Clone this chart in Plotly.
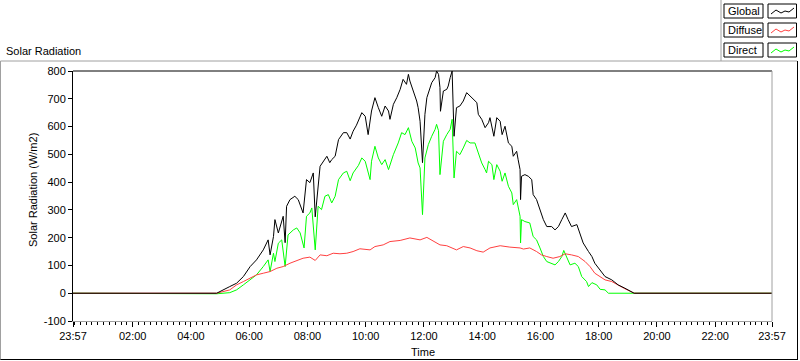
import plotly.graph_objects as go

DAY = "2024-01-02 "
START = "2024-01-01 23:57"
END = "2024-01-02 23:57"

global_times = ["04:53","05:20","05:34","05:48","06:02","06:15","06:29","06:39","06:43","06:50","06:53","07:00","07:10","07:14","07:17","07:24","07:34","07:41","07:51","07:58","08:05","08:12","08:16","08:26","08:40","08:46","08:50","08:57","09:04","09:14","09:21","09:28","09:34","09:41","09:48","09:52","09:59","10:02","10:05","10:12","10:19","10:26","10:33","10:40","10:47","10:50","10:57","11:04","11:11","11:17","11:24","11:28","11:31","11:38","11:45","11:48","11:52","11:57","12:02","12:06","12:12","12:16","12:23","12:26","12:30","12:33","12:34","12:40","12:47","12:50","12:54","12:58","13:02","13:07","13:14","13:21","13:28","13:35","13:42","13:49","13:52","13:59","14:06","14:13","14:16","14:24","14:30","14:37","14:41","14:47","14:54","15:01","15:04","15:11","15:14","15:18","15:19","15:21","15:28","15:35","15:42","15:45","15:52","15:59","16:06","16:13","16:23","16:30","16:37","16:44","16:51","16:57","17:04","17:15","17:21","17:28","17:39","17:46","17:52","18:03","18:13","18:27","18:40","18:54","19:11","19:13"]
global_values = [0,24,36,60,96,120,156,192,138,204,265,217,277,182,313,337,349,337,289,409,398,433,275,457,493,470,481,493,553,578,578,555,583,605,630,650,637,601,571,656,704,668,637,674,656,626,680,704,734,770,752,788,764,728,692,668,619,470,644,704,740,758,776,800,788,740,655,728,734,746,776,800,565,668,674,692,722,710,698,686,644,626,596,614,632,565,632,619,571,601,541,529,493,511,481,445,337,421,427,421,409,355,337,301,265,240,240,228,240,265,289,265,240,247,217,181,150,132,108,84,60,48,30,18,2,0]

direct_times = ["04:53","05:20","05:34","05:48","06:02","06:15","06:29","06:39","06:43","06:50","06:53","07:00","07:07","07:10","07:14","07:20","07:31","07:38","07:45","07:53","07:58","08:05","08:09","08:16","08:22","08:29","08:36","08:43","08:50","08:57","09:04","09:14","09:21","09:28","09:34","09:45","09:52","09:59","10:09","10:12","10:19","10:26","10:33","10:40","10:47","10:57","11:07","11:14","11:21","11:28","11:35","11:42","11:48","11:52","11:57","12:02","12:09","12:16","12:23","12:26","12:30","12:33","12:40","12:47","12:54","12:58","13:02","13:07","13:14","13:21","13:28","13:35","13:45","13:52","13:59","14:06","14:09","14:13","14:20","14:24","14:30","14:37","14:41","14:47","14:54","15:01","15:04","15:11","15:14","15:18","15:19","15:21","15:28","15:38","15:45","15:52","15:59","16:06","16:13","16:23","16:30","16:37","16:44","16:48","16:54","17:01","17:11","17:18","17:25","17:35","17:39","17:46","17:56","18:03","18:13","18:20"]
direct_values = [-2,2,12,30,50,66,96,120,78,144,114,180,192,150,96,210,228,235,217,163,277,289,307,156,313,301,349,355,325,349,409,433,439,405,433,460,487,475,409,475,529,487,463,481,445,499,541,578,571,596,547,523,469,451,283,487,535,565,590,608,585,427,547,571,590,626,415,511,499,523,550,541,541,505,469,445,433,475,463,409,463,439,403,433,385,361,319,337,313,277,181,265,258,253,204,192,163,132,114,108,102,114,132,154,132,102,108,96,60,42,24,38,30,14,12,0]

diffuse_times = ["04:53","05:20","05:34","05:48","06:02","06:15","06:29","06:43","06:57","07:10","07:24","07:38","07:51","08:05","08:16","08:26","08:40","08:53","09:07","09:21","09:34","09:48","10:09","10:19","10:36","10:50","11:11","11:31","11:52","12:06","12:19","12:33","12:47","13:00","13:07","13:21","13:35","13:49","14:02","14:16","14:37","14:57","15:18","15:25","15:38","15:52","16:02","16:13","16:26","16:40","16:51","17:04","17:18","17:32","17:42","17:52","18:03","18:13","18:27","18:40","18:54","19:11","19:13"]
diffuse_values = [0,12,30,42,54,66,72,78,90,96,108,118,126,130,118,138,135,144,142,144,150,160,156,168,174,186,190,199,192,201,189,174,171,163,156,168,163,153,148,163,171,166,163,159,163,150,138,132,126,132,142,138,132,114,96,72,60,48,42,28,16,2,0]

x_tick_labels = ["23:57","02:00","04:00","06:00","08:00","10:00","12:00","14:00","16:00","18:00","20:00","22:00","23:57"]
y_tick_values = [-100,0,100,200,300,400,500,600,700,800]
series_names = ["Global","Diffuse","Direct"]


def full_x(times):
    return [START] + [DAY + t for t in times] + [END]


def full_y(vals):
    return [0] + list(vals) + [0]


FONT = "Liberation Sans"
L, R, T, B = 73, 772, 71, 321
W, H = R - L, B - T


def px(x):
    return (x - L) / W


def py(y):
    return (B - y) / H


fig = go.Figure()
fig.add_trace(go.Scatter(x=full_x(direct_times), y=full_y(direct_values), mode="lines",
                         line=dict(color="#00ff00", width=1), name="Direct"))
fig.add_trace(go.Scatter(x=full_x(diffuse_times), y=full_y(diffuse_values), mode="lines",
                         line=dict(color="#ff4040", width=1), name="Diffuse"))
fig.add_trace(go.Scatter(x=full_x(global_times), y=full_y(global_values), mode="lines",
                         line=dict(color="#000000", width=1), name="Global"))

x_tick_vals = [START] + [DAY + t for t in x_tick_labels[1:-1]] + [END]

shapes = []


def line(x0, y0, x1, y1, color, width=1):
    shapes.append(dict(type="line", xref="paper", yref="paper", x0=px(x0), y0=py(y0),
                       x1=px(x1), y1=py(y1), line=dict(color=color, width=width), layer="above"))


# plot frame
line(L, T, R, T, "#000000")
line(R, T, R, B, "#a0a0a0")
# outer panel frame
line(0.5, 61, 797, 61, "#a0a0a0")
line(0.5, 61, 0.5, 360, "#a0a0a0")
line(0.5, 359.5, 797.5, 359.5, "#000000")
line(797.5, 61, 797.5, 360, "#000000")
line(721, 0, 721, 61, "#a0a0a0")

annotations = []
colors = {"Global": "#000000", "Diffuse": "#ff4040", "Direct": "#00ff00"}
row_tops = [4, 23, 43]
for name, top in zip(series_names, row_tops):
    shapes.append(dict(type="rect", xref="paper", yref="paper", x0=px(724), x1=px(763),
                       y0=py(top), y1=py(top + 14), line=dict(color="black", width=1),
                       fillcolor="white", layer="above"))
    shapes.append(dict(type="rect", xref="paper", yref="paper", x0=px(768), x1=px(796.5),
                       y0=py(top), y1=py(top + 14), line=dict(color="black", width=1),
                       fillcolor="white", layer="above"))
    pts = [(771, 10), (776, 6), (781, 9), (785, 7), (789, 8), (794, 4)]
    path = "M " + " L ".join(f"{px(x)},{py(top + y)}" for x, y in pts)
    shapes.append(dict(type="path", xref="paper", yref="paper", path=path,
                       line=dict(color=colors[name], width=1), layer="above"))
    annotations.append(dict(text=name, xref="paper", yref="paper", x=px(726), y=py(top + 7),
                            xanchor="left", yanchor="middle", showarrow=False,
                            font=dict(family=FONT, size=11, color="black")))

annotations.append(dict(text="Solar Radiation", xref="paper", yref="paper", x=px(4), y=py(51),
                        xanchor="left", yanchor="middle", showarrow=False,
                        font=dict(family=FONT, size=11, color="black")))
annotations.append(dict(text="Solar Radiation (W/m2)", xref="paper", yref="paper", x=px(33),
                        y=py(190), xanchor="center", yanchor="middle", textangle=-90,
                        showarrow=False, font=dict(family=FONT, size=11, color="black")))
annotations.append(dict(text="Time", xref="paper", yref="paper", x=px(423), y=py(352),
                        xanchor="center", yanchor="middle", showarrow=False,
                        font=dict(family=FONT, size=11, color="black")))

fig.update_layout(
    width=800, height=361,
    margin=dict(l=L, r=800 - R, t=T, b=361 - B, pad=0),
    paper_bgcolor="white", plot_bgcolor="white",
    showlegend=False,
    font=dict(family=FONT, size=11, color="black"),
    shapes=shapes, annotations=annotations,
    xaxis=dict(type="date", range=[START, END], tickvals=x_tick_vals, ticktext=x_tick_labels,
               ticks="outside", ticklen=5, tickcolor="black", tickwidth=1,
               showgrid=False, zeroline=False, showline=True, linecolor="#a0a0a0", linewidth=1,
               tickfont=dict(family=FONT, size=11, color="black"),
               minor=dict(ticks="outside", ticklen=3, tickcolor="black", tickwidth=1,
                          tick0="2024-01-02 00:00", dtick=12 * 60 * 1000, showgrid=False)),
    yaxis=dict(range=[-100, 800], tickvals=y_tick_values, ticktext=[str(v) for v in y_tick_values],
               ticks="outside", ticklen=4, tickcolor="black", tickwidth=1,
               showgrid=False, zeroline=False, showline=True, linecolor="black", linewidth=1,
               tickfont=dict(family=FONT, size=11, color="black")),
)

fig.write_html("out.html", config={"displayModeBar": False},
               post_script="document.body.style.margin='0px';document.body.style.overflow='hidden';")
